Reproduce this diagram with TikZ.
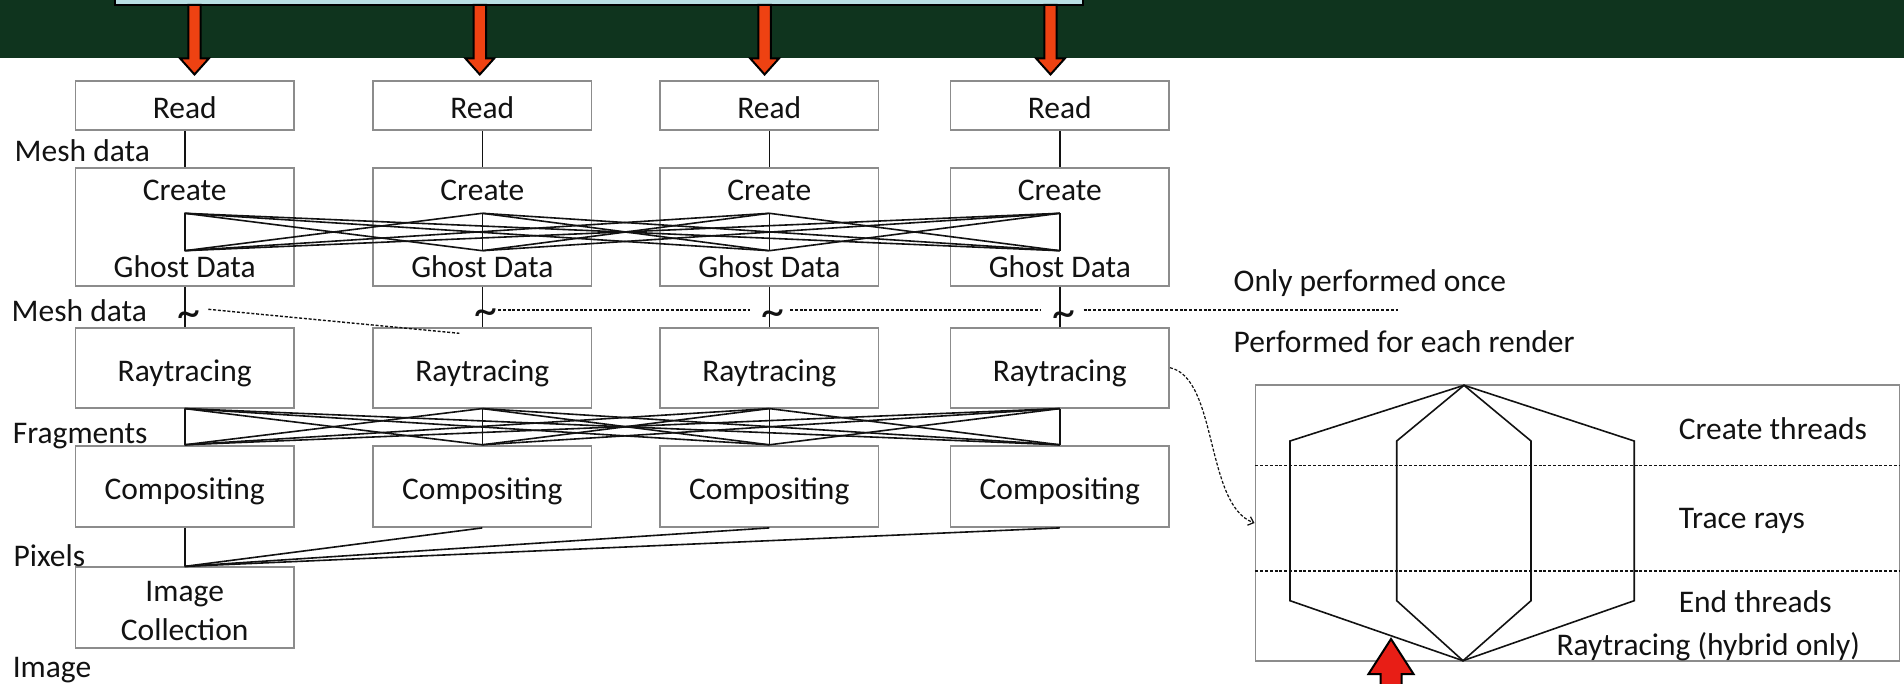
\documentclass[tikz,border=0pt]{standalone}
\usepackage{fontspec}
\setmainfont{Carlito}
\usetikzlibrary{arrows.meta}

\definecolor{band}{RGB}{15,52,30}
\definecolor{banner}{RGB}{185,223,227}
\definecolor{orangered}{RGB}{238,66,18}
\definecolor{brightred}{RGB}{232,30,22}
\definecolor{boxline}{RGB}{140,140,140}
\definecolor{ink}{RGB}{18,18,18}

\newcommand{\diagfont}{\fontsize{31.5pt}{38pt}\selectfont}
\newcommand{\tildefont}{\fontsize{46pt}{50pt}\selectfont}

\tikzset{
  stage/.style={draw=boxline, line width=1.8pt, minimum width=218.5pt,
    inner sep=0pt, text height=27pt, text depth=0pt, font=\diagfont, text=ink},
  txt/.style={inner sep=0pt, font=\diagfont, text=ink},
  tilde/.style={inner sep=0pt, font=\tildefont, text=ink, anchor=base},
  wire/.style={draw=ink, line width=1.6pt},
  cutline/.style={draw=ink, line width=1.4pt, dash pattern=on 3pt off 1.8pt},
  downarrow/.style={fill=orangered, draw=black, line width=2pt, line join=miter},
  uparrow/.style={fill=brightred, draw=black, line width=2pt, line join=miter},
}

\begin{document}
\begin{tikzpicture}[x=1pt, y=-1pt]
\useasboundingbox (0,0) rectangle (1904,684);
\clip (0,0) rectangle (1904,684);

% title band with the banner box and the four input arrows
\fill[band] (0,-5) rectangle (1904,58.3);
\draw[fill=banner, draw=black, line width=2.5pt] (115,-20) rectangle (1083,5);
\foreach \c in {194.5, 479.8, 764.6, 1050.5} {
  \draw[downarrow] (\c-6.2,5) -- (\c-6.2,58.3) -- (\c-14.5,58.3) -- (\c,74.5)
    -- (\c+14.5,58.3) -- (\c+6.2,58.3) -- (\c+6.2,5) -- cycle;
}

% the four process columns
\foreach \i/\x in {1/184.7, 2/482.3, 3/769.3, 4/1059.8} {
  \node[stage, minimum height=49.6pt] (rd\i) at (\x,105.5) {Read};
  \node[stage, minimum height=118.3pt] (cg\i) at (\x,226.85) {};
  \node[txt, anchor=base] (cgtop\i) at (\x,200.7) {Create};
  \node[txt, anchor=base] (cgbot\i) at (\x,278) {Ghost Data};
  \coordinate (gt\i) at (\x,213.3);
  \coordinate (gb\i) at (\x,250.7);
  \node[stage, minimum height=80pt] (rt\i) at (\x,367.7) {Raytracing};
  \node[stage, minimum height=81.3pt] (cp\i) at (\x,486.35) {Compositing};
}

% image collection
\node[stage, minimum height=81pt] (ic) at (184.7,607.8) {};
\node[txt, anchor=base] (ica) at (184.7,601.7) {Image};
\node[txt, anchor=base] (icb) at (184.7,640) {Collection};

% data labels on the left
\node[txt, anchor=base west] (lmesh1) at (14.5,161.7) {Mesh data};
\node[txt, anchor=base west] (lmesh2) at (11.5,321.7) {Mesh data};
\node[txt, anchor=base west] (lfrag) at (12.6,443) {Fragments};
\node[txt, anchor=base west] (lpix) at (13.4,566) {Pixels};
\node[txt, anchor=base west] (limg) at (12.6,677) {Image};

% connectors
\foreach \i in {1,...,4} {
  \draw[wire] (rd\i.south) -- (cg\i.north);
  \draw[wire] (cg\i.south) -- (rt\i.north);
  \draw[wire] (cp\i.south) -- (ic.north);
  \foreach \j in {1,...,4} {
    \draw[wire] (gt\i) -- (gb\j);
    \draw[wire] (rt\i.south) -- (cp\j.north);
  }
}

% break marks and the once / per-render boundary
\node[tilde] (tl1) at (188.5,327.5) {\textasciitilde};
\node[tilde] (tl2) at (485.5,326) {\textasciitilde};
\node[tilde] (tl3) at (773,326.5) {\textasciitilde};
\node[tilde] (tl4) at (1064,328) {\textasciitilde};
\coordinate (s1a) at (208.3,309.3);  \coordinate (s1b) at (459.3,333.3);
\coordinate (s2a) at (498,310);      \coordinate (s2b) at (749.5,310);
\coordinate (s3a) at (790,310);      \coordinate (s3b) at (1041,310);
\coordinate (s4a) at (1083.6,310);   \coordinate (s4b) at (1397.8,310);
\draw[cutline] (s1a) -- (s1b);
\draw[cutline] (s2a) -- (s2b);
\draw[cutline] (s3a) -- (s3b);
\draw[cutline] (s4a) -- (s4b);
\node[txt, anchor=base west] (once) at (1233.5,291.7) {Only performed once};
\node[txt, anchor=base west] (each) at (1233.5,353) {Performed for each render};

% hybrid raytracing detail
\node[draw=boxline, line width=1.8pt, minimum width=644pt, minimum height=275.4pt,
  inner sep=0pt] (panel) at (1577.4,523) {};
\coordinate (p1l) at (1255.4,465.3); \coordinate (p1r) at (1899.4,465.3);
\coordinate (p2l) at (1255.4,571);   \coordinate (p2r) at (1899.4,571);
\draw[cutline] (p1l) -- (p1r);
\draw[cutline] (p2l) -- (p2r);

\coordinate (hxT) at (1464,385.3);
\coordinate (hxB) at (1463,660.7);
\coordinate (oUL) at (1290,441);    \coordinate (oLL) at (1290,600.7);
\coordinate (oUR) at (1634.2,441);  \coordinate (oLR) at (1634.2,600.7);
\coordinate (iUL) at (1396.7,441);  \coordinate (iLL) at (1396.7,600.7);
\coordinate (iUR) at (1531,441);    \coordinate (iLR) at (1531,600.7);
\draw[wire, line join=miter] (hxT) -- (oUL) -- (oLL) -- (hxB) -- (oLR) -- (oUR) -- cycle;
\draw[wire, line join=miter] (hxT) -- (iUL) -- (iLL) -- (hxB) -- (iLR) -- (iUR) -- cycle;

\node[txt, anchor=base west] (pcreate) at (1678.6,439.3) {Create threads};
\node[txt, anchor=base west] (ptrace) at (1678.6,528.3) {Trace rays};
\node[txt, anchor=base west] (pend) at (1678.6,612.7) {End threads};
\node[txt, anchor=base west] (ptitle) at (1556.4,655) {Raytracing (hybrid only)};

\draw[cutline, line width=1.2pt, -{Straight Barb[length=5pt,width=9pt]}]
  (rt4.east) .. controls (1218,378) and (1205,505) .. (panel.west);

% pointer arrow from below
\draw[uparrow] (1380.5,700) -- (1380.5,674) -- (1368.5,674) -- (1391,639)
  -- (1413.5,674) -- (1401.5,674) -- (1401.5,700) -- cycle;
\end{tikzpicture}
\end{document}
